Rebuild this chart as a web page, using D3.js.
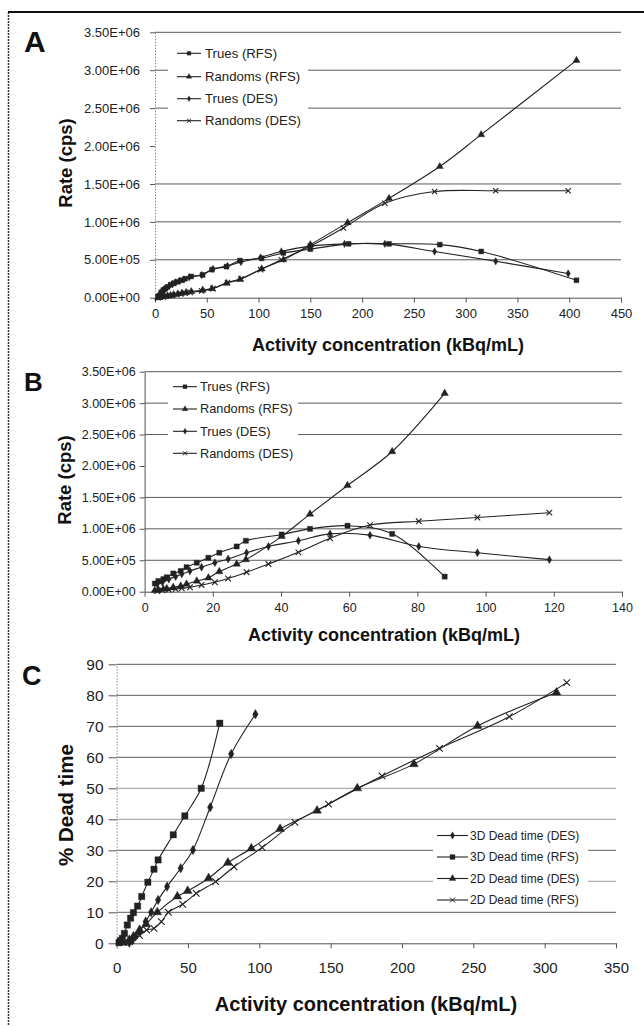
<!DOCTYPE html>
<html>
<head>
<meta charset="utf-8">
<script src="https://cdn.jsdelivr.net/npm/d3@7"></script>
<style>
  body { margin: 0; background: #fff; }
  svg { display: block; font-family: "Liberation Sans", Arial, sans-serif; }
</style>
</head>
<body>
<svg id="fig" width="644" height="1026"></svg>
<script>
// ---------- data ----------
// panel A : rate (cps) vs activity concentration, x in kBq/mL
const aTruesRfsX = [3, 6, 8, 10, 12, 15, 18, 21, 25, 29, 35, 46, 55, 69, 82, 103, 124, 150, 187, 226, 275, 315, 407]
const aTruesRfsY = [0.02, 0.07, 0.10, 0.12, 0.14, 0.17, 0.19, 0.21, 0.23, 0.25, 0.28, 0.30, 0.37, 0.41, 0.49, 0.52, 0.59, 0.64, 0.71, 0.71, 0.70, 0.61, 0.23]
const aRandRfsX  = [3, 6, 9, 12, 15, 18, 22, 26, 30, 35, 46, 55, 69, 82, 103, 124, 150, 186, 226, 275, 315, 407]
const aRandRfsY  = [0.0, 0.01, 0.02, 0.025, 0.03, 0.04, 0.05, 0.06, 0.07, 0.08, 0.10, 0.12, 0.19, 0.24, 0.38, 0.50, 0.70, 0.99, 1.31, 1.73, 2.15, 3.13]
const aTruesDesX = [3, 5, 7, 9, 11, 14, 17, 20, 24, 28, 33, 45, 56, 70, 83, 102, 122, 150, 183, 222, 270, 329, 399]
const aTruesDesY = [0.02, 0.06, 0.09, 0.11, 0.13, 0.16, 0.18, 0.20, 0.22, 0.24, 0.27, 0.30, 0.38, 0.42, 0.47, 0.53, 0.61, 0.68, 0.71, 0.71, 0.61, 0.48, 0.32]
const aRandDesX  = [3, 5, 8, 11, 14, 17, 21, 25, 29, 34, 45, 56, 70, 83, 102, 122, 150, 182, 222, 270, 329, 399]
const aRandDesY  = [0.0, 0.005, 0.01, 0.02, 0.025, 0.03, 0.04, 0.05, 0.06, 0.07, 0.09, 0.12, 0.20, 0.25, 0.37, 0.50, 0.68, 0.92, 1.245, 1.40, 1.41, 1.41]

// panel B
const bRfsX      = [3.0, 4.0, 5.5, 6.5, 8.4, 10.6, 12.3, 15.3, 18.7, 21.9, 27.0, 29.7, 40.2, 48.5, 59.5, 72.6, 88.0]
const bTruesRfsY = [0.13, 0.17, 0.20, 0.23, 0.29, 0.33, 0.39, 0.46, 0.54, 0.62, 0.72, 0.81, 0.91, 1.00, 1.05, 0.92, 0.24]
const bRandRfsY  = [0.02, 0.03, 0.04, 0.05, 0.07, 0.09, 0.12, 0.17, 0.22, 0.32, 0.44, 0.51, 0.88, 1.235, 1.69, 2.23, 3.155]
const bDesX      = [3.7, 5.2, 7.1, 9.1, 10.9, 13.3, 16.7, 20.6, 24.5, 29.9, 36.3, 45.1, 54.4, 66.1, 80.4, 97.6, 118.7]
const bTruesDesY = [0.12, 0.15, 0.20, 0.24, 0.28, 0.33, 0.39, 0.46, 0.52, 0.62, 0.72, 0.81, 0.92, 0.90, 0.72, 0.62, 0.51]
const bRandDesY  = [0.01, 0.02, 0.03, 0.04, 0.055, 0.07, 0.107, 0.15, 0.21, 0.31, 0.44, 0.626, 0.85, 1.06, 1.12, 1.18, 1.257]

// panel C : % dead time
const c3dDesX = [8.9, 10.9, 13.2, 16.1, 20.4, 24.2, 29.1, 35.4, 44.9, 53.5, 65.6, 80.3, 97.3]
const c3dDesY = [0.2, 0.9, 2.2, 3.8, 7, 10, 14, 18.3, 24.2, 30.1, 43.9, 61.1, 73.9]
const c3dRfsX = [1.7, 2.6, 4, 5.5, 7.5, 9.8, 11.8, 14.7, 17.6, 21.9, 26.2, 29.1, 39.7, 47.8, 59.3, 72.3]
const c3dRfsY = [0.2, 0.8, 1.6, 3.2, 5.9, 8.1, 9.9, 12, 15.1, 19.7, 23.9, 26.9, 35, 41.1, 50, 71]
const c2dDesX = [4.6, 8.9, 11.8, 16.1, 20.7, 28.5, 42.6, 49.8, 64.5, 78, 94.4, 114.6, 140.5, 168.7, 208.4, 253, 308.3]
const c2dDesY = [0.2, 1.1, 2.2, 4.3, 6.2, 10, 15.1, 16.9, 21, 26, 30.6, 36.9, 42.8, 50, 57.8, 70.1, 80.9]
const c2dRfsX = [4.6, 10, 16.1, 21, 26.2, 31.4, 36.3, 46.3, 55.8, 69.4, 82.3, 102, 125, 148.5, 186, 226.3, 275.2, 315.5]
const c2dRfsY = [0.2, 1, 2.5, 4.3, 4.8, 7, 10, 12.6, 16.1, 19.9, 24.7, 30.9, 39, 44.9, 54, 62.9, 73.1, 84.1]

// axis ticks / grid
const rateTicks = [0, 0.5e6, 1e6, 1.5e6, 2e6, 2.5e6, 3e6, 3.5e6]
const rateGrid  = [0.5e6, 1e6, 1.5e6, 2.5e6, 3e6, 3.5e6]   // the 2.00E+06 line is not printed
const aXTicks = d3.range(0, 451, 50)
const bXTicks = d3.range(0, 141, 20)
const cXTicks = d3.range(0, 351, 50)
const cYTicks = d3.range(0, 91, 10)

const legendRate = ["Trues (RFS)", "Randoms (RFS)", "Trues (DES)", "Randoms (DES)"]
const legendDead = ["3D Dead time (DES)", "3D Dead time (RFS)", "2D Dead time (DES)", "2D Dead time (RFS)"]

const MEGA = 1e6
const INK = "#222"
const svg = d3.select("#fig")

// figure frame (only left and top edges show in the scan)
svg.append("line").attr("x1", 8.5).attr("y1", 12).attr("x2", 8.5).attr("y2", 1026)
  .attr("stroke", "#333").attr("stroke-width", 1.5).attr("stroke-dasharray", "2,1")
svg.append("line").attr("x1", 8).attr("y1", 12).attr("x2", 644).attr("y2", 12)
  .attr("stroke", "#111").attr("stroke-width", 2)

function zip(xs, ys, k) { return xs.map((x, i) => [x, ys[i] * k]) }

function sciFmt(v) {
  // Excel style 3.50E+06
  if (v === 0) return "0.00E+00"
  const e = Math.floor(Math.log10(v))
  return (v / Math.pow(10, e)).toFixed(2) + "E+" + String(e).padStart(2, "0")
}

//////////////////// panel drawing
function panel(spec) {
  const g = svg.append("g")
  const x = d3.scaleLinear().domain(spec.xDomain).range(spec.xRange)
  const y = d3.scaleLinear().domain(spec.yDomain).range(spec.yRange)
  const [x0, x1] = spec.xRange
  const [yb, yt] = spec.yRange

  // grid
  g.selectAll(".grid").data(spec.grid).join("line")
    .attr("x1", x0).attr("x2", x1)
    .attr("y1", d => y(d)).attr("y2", d => y(d))
    .attr("stroke", d => (spec.lightGrid || []).includes(d) ? "#9a9a9a" : "#5a5a5a")
    .attr("stroke-width", 1)

  // legend box covers grid
  const lg = spec.legend
  g.append("rect").attr("x", lg.box[0]).attr("y", lg.box[1])
    .attr("width", lg.box[2]).attr("height", lg.box[3]).attr("fill", "#fff")

  // y axis
  const ya = g.append("g").attr("transform", `translate(${x0},0)`)
    .call(d3.axisLeft(y).tickValues(spec.yTicks).tickSizeInner(spec.yTick).tickSizeOuter(0)
      .tickPadding(spec.yPad).tickFormat(spec.yFmt))
  ya.select(".domain").attr("stroke", spec.yDotted ? "#888" : "#555")
    .attr("stroke-dasharray", spec.yDotted ? "1.5,1.5" : null)
  ya.selectAll(".tick line").attr("stroke", "#555")
  ya.selectAll("text").attr("font-size", spec.yFont).attr("fill", "#222")
    .attr("font-family", "'Liberation Sans', Arial, sans-serif")

  // x axis
  const xa = g.append("g").attr("transform", `translate(0,${yb})`)
    .call(d3.axisBottom(x).tickValues(spec.xTicks).tickSizeInner(spec.xTick).tickSizeOuter(0)
      .tickPadding(spec.xPad).tickFormat(d3.format("d")))
  xa.select(".domain").attr("stroke", "#555")
  xa.selectAll(".tick line").attr("stroke", "#555")
  xa.selectAll("text").attr("font-size", spec.xFont).attr("fill", "#222")
    .attr("font-family", "'Liberation Sans', Arial, sans-serif")

  // series
  const line = d3.line().x(d => x(d[0])).y(d => y(d[1])).curve(d3.curveCatmullRom.alpha(0.5))
  spec.series.forEach(s => {
    g.append("path").datum(s.pts).attr("d", line)
      .attr("fill", "none").attr("stroke", INK).attr("stroke-width", 1.1)
  })
  spec.series.forEach(s => {
    const sym = d3.symbol().type(s.type).size(s.size)
    g.selectAll(null).data(s.pts).join("path")
      .attr("transform", d => `translate(${x(d[0])},${y(d[1])})`)
      .attr("d", sym)
      .attr("fill", s.type === d3.symbolTimes ? "none" : INK)
      .attr("stroke", INK).attr("stroke-width", s.type === d3.symbolTimes ? 1.1 : 0.4)
  })

  // legend entries
  spec.series.forEach((s, i) => {
    const ly = lg.rows[i]
    g.append("line").attr("x1", lg.lineX[0]).attr("x2", lg.lineX[1])
      .attr("y1", ly).attr("y2", ly).attr("stroke", INK).attr("stroke-width", 1.1)
    g.append("path").attr("transform", `translate(${(lg.lineX[0] + lg.lineX[1]) / 2},${ly})`)
      .attr("d", d3.symbol().type(s.type).size(s.size * 0.6))
      .attr("fill", s.type === d3.symbolTimes ? "none" : INK)
      .attr("stroke", INK).attr("stroke-width", s.type === d3.symbolTimes ? 1 : 0.3)
    g.append("text").attr("x", lg.textX).attr("y", ly).attr("dy", "0.35em")
      .attr("font-size", lg.font).attr("fill", "#222").text(lg.labels[i])
  })

  // panel letter
  g.append("text").attr("x", spec.letter.x).attr("y", spec.letter.y)
    .attr("font-size", spec.letter.size).attr("font-weight", "bold").attr("fill", "#111")
    .text(spec.letter.t)

  // axis titles
  g.append("text").attr("x", spec.xTitle.x).attr("y", spec.xTitle.y)
    .attr("text-anchor", "middle").attr("font-size", spec.xTitle.size).attr("font-weight", "bold")
    .attr("fill", "#111").text("Activity concentration (kBq/mL)")
  g.append("text").attr("transform", `translate(${spec.yTitle.x},${spec.yTitle.y}) rotate(-90)`)
    .attr("text-anchor", "middle").attr("dy", "0.35em")
    .attr("font-size", spec.yTitle.size).attr("font-weight", "bold")
    .attr("fill", "#111").text(spec.yTitle.t)
}

//////////////////// A
panel({
  xDomain: [0, 450], xRange: [155, 621],
  yDomain: [0, 3.5e6], yRange: [297.7, 32.3],
  grid: rateGrid, yTicks: rateTicks, xTicks: aXTicks,
  yTick: 5, yPad: 10, yFont: 13, yFmt: sciFmt, yDotted: true,
  xTick: 5, xPad: 6, xFont: 13,
  series: [
    { pts: zip(aTruesRfsX, aTruesRfsY, MEGA), type: d3.symbolSquare, size: 24 },
    { pts: zip(aRandRfsX, aRandRfsY, MEGA), type: d3.symbolTriangle, size: 22 },
    { pts: zip(aTruesDesX, aTruesDesY, MEGA), type: d3.symbolDiamond, size: 16 },
    { pts: zip(aRandDesX, aRandDesY, MEGA), type: d3.symbolTimes, size: 20 }
  ],
  legend: { box: [168, 40, 140, 92], rows: [53.3, 76.7, 98.7, 120.7], lineX: [177, 201], textX: 205,
            font: 13.2, labels: legendRate },
  letter: { t: "A", x: 24, y: 52, size: 30 },
  xTitle: { x: 388, y: 351, size: 18 },
  yTitle: { t: "Rate (cps)", x: 66, y: 163, size: 18.5 }
})

//////////////////// B
panel({
  xDomain: [0, 140], xRange: [144.6, 622],
  yDomain: [0, 3.5e6], yRange: [591.7, 371.7],
  grid: rateGrid, yTicks: rateTicks, xTicks: bXTicks,
  yTick: 5, yPad: 4, yFont: 12.5, yFmt: sciFmt, yDotted: false,
  xTick: 5, xPad: 6, xFont: 12.5,
  series: [
    { pts: zip(bRfsX, bTruesRfsY, MEGA), type: d3.symbolSquare, size: 26 },
    { pts: zip(bRfsX, bRandRfsY, MEGA), type: d3.symbolTriangle, size: 24 },
    { pts: zip(bDesX, bTruesDesY, MEGA), type: d3.symbolDiamond, size: 18 },
    { pts: zip(bDesX, bRandDesY, MEGA), type: d3.symbolTimes, size: 22 }
  ],
  legend: { box: [168, 377, 130, 88], rows: [386.7, 409, 431.3, 453.3], lineX: [173, 197], textX: 200,
            font: 12.8, labels: legendRate },
  letter: { t: "B", x: 24, y: 391, size: 26 },
  xTitle: { x: 384, y: 641, size: 18 },
  yTitle: { t: "Rate (cps)", x: 65, y: 480, size: 18.5 }
})

//////////////////// C
panel({
  xDomain: [0, 350], xRange: [116.6, 616],
  yDomain: [0, 90], yRange: [943.3, 664.3],
  grid: cYTicks.slice(1), lightGrid: [20, 40, 50], yTicks: cYTicks, xTicks: cXTicks,
  yTick: 8, yPad: 5, yFont: 15.5, yFmt: d3.format("d"), yDotted: true,
  xTick: 5, xPad: 14, xFont: 15,
  series: [
    { pts: zip(c3dDesX, c3dDesY, 1), type: d3.symbolDiamond, size: 26 },
    { pts: zip(c3dRfsX, c3dRfsY, 1), type: d3.symbolSquare, size: 40 },
    { pts: zip(c2dDesX, c2dDesY, 1), type: d3.symbolTriangle, size: 34 },
    { pts: zip(c2dRfsX, c2dRfsY, 1), type: d3.symbolTimes, size: 30 }
  ],
  legend: { box: [433, 826, 155, 82], rows: [835.5, 857, 878.5, 900], lineX: [437, 468], textX: 470,
            font: 12, labels: legendDead },
  letter: { t: "C", x: 22, y: 685, size: 27 },
  xTitle: { x: 366, y: 1011, size: 20 },
  yTitle: { t: "% Dead time", x: 66, y: 805, size: 20.5 }
})
</script>
</body>
</html>
